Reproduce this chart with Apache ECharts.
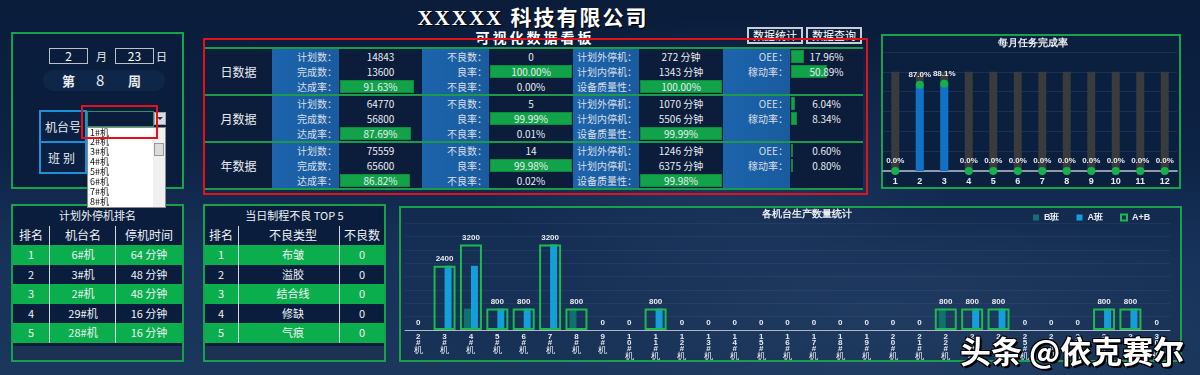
<!DOCTYPE html>
<html lang="zh">
<head>
<meta charset="utf-8">
<title>可视化数据看板</title>
<script src="https://cdn.jsdelivr.net/npm/echarts@6.0.0/dist/echarts.min.js"></script>
<style>
  html, body { margin: 0; padding: 0; }
  body {
    width: 1200px; height: 375px; overflow: hidden; position: relative;
    font-family: "Noto Sans CJK SC", "Noto Sans", sans-serif; color: #e8ecf1;
    background:
      radial-gradient(ellipse 360px 190px at 720px 150px, rgba(110,150,205,0.16), transparent 70%),
      radial-gradient(ellipse 520px 150px at 880px 310px, rgba(120,160,210,0.12), transparent 70%),
      linear-gradient(180deg, #0a1c3a 0%, #0d2345 40%, #17325a 68%, #1b375c 100%);
  }
  .a { position: absolute; box-sizing: border-box; }
  .green-box { border: 2px solid #19a04a; }
  .title { left: 0; width: 1066px; top: 1px; text-align: center; font-family: "Liberation Serif", "Noto Sans CJK SC", serif;
           font-weight: bold; font-size: 21px; letter-spacing: 2px; color: #fff; text-shadow: 1px 1px 1px #000; }
  .subtitle { left: 0; width: 1070px; top: 27px; text-align: center; font-size: 14px; font-weight: bold; letter-spacing: 3px; color: #fff; }
  .btn { height: 17px; width: 56px; border: 2px solid #c9ced6; background: #0c1f3c; color: #fff; font-size: 11px;
         line-height: 13px; text-align: center; }
  .kpi div { position: absolute; box-sizing: border-box; }
  .lbl { text-align: right; font-size: 10px; color: #d9dfe7; line-height: 15px; padding-right: 2px; }
  .val { text-align: center; font-size: 10px; color: #e9edf2; line-height: 15px; }
  .bar { background: #12a34a; border: 1px solid #0c8a3b; }
  .tb div { position: absolute; box-sizing: border-box; text-align: center; font-size: 11px; color: #eef2f6; }
  .drop div { position: absolute; box-sizing: border-box; }
</style>
</head>
<body>

<!-- header -->
<div class="a title">XXXXX 科技有限公司</div>
<div class="a subtitle">可视化数据看板</div>
<div class="a btn" style="left:747px;top:27px;">数据统计</div>
<div class="a btn" style="left:806px;top:27px;">数据查询</div>

<!-- date / machine panel -->
<div class="a green-box" style="left:11px;top:32px;width:173px;height:157px;background:#0a1d3c;"></div>
<div class="a" style="left:49px;top:48px;width:39px;height:16px;border:1.5px solid #b9c1cc;text-align:center;font-size:12px;line-height:13px;color:#fff;">2</div>
<div class="a" style="left:96px;top:48px;font-size:11px;line-height:16px;">月</div>
<div class="a" style="left:115px;top:48px;width:39px;height:16px;border:1.5px solid #b9c1cc;text-align:center;font-size:12px;line-height:13px;color:#fff;">23</div>
<div class="a" style="left:156px;top:48px;font-size:11px;line-height:16px;">日</div>
<div class="a" style="left:43px;top:70px;width:122px;height:21px;border-radius:10px;background:#0e2749;"></div>
<div class="a" style="left:62px;top:70px;font-size:13px;line-height:21px;font-weight:bold;">第</div>
<div class="a" style="left:96px;top:69px;font-size:15px;line-height:22px;">8</div>
<div class="a" style="left:128px;top:70px;font-size:13px;line-height:21px;font-weight:bold;">周</div>
<div class="a" style="left:39px;top:110px;width:48px;height:33px;border:2px solid #1f90d8;background:#0b2143;text-align:center;font-size:12px;line-height:29px;">机台号</div>
<div class="a" style="left:39px;top:141px;width:48px;height:33px;border:2px solid #1f90d8;background:#0b2143;text-align:center;font-size:12px;line-height:29px;letter-spacing:3px;">班别</div>

<!-- bottom-left tables -->
<div class="a green-box tb" id="stopTable" style="left:11px;top:204px;width:173px;height:158px;background:#1b3253;"></div>
<div class="a green-box tb" id="defectTable" style="left:203px;top:204px;width:183px;height:158px;background:#1b3253;"></div>

<!-- KPI table -->
<div class="a kpi" id="kpi" style="left:205px;top:47px;width:658px;height:144px;"></div>
<div class="a" style="left:203px;top:38px;width:665px;height:157px;border:2px solid #e3121a;"></div>

<!-- chart panels -->
<div class="a green-box" style="left:881px;top:34px;width:300px;height:155px;background:#0b1f3e;"></div>
<div class="a green-box" style="left:399px;top:206px;width:783px;height:156px;background:rgba(20,40,70,0.25);"></div>

<div id="chart" class="a" style="left:0;top:0;width:1200px;height:375px;"></div>

<!-- dropdown (drawn above the bottom table) -->
<div class="a drop" id="drop" style="left:0;top:0;width:0;height:0;"></div>

<div class="a" style="left:960px;top:327px;font-size:31px;font-weight:bold;color:#fff;white-space:nowrap;
     text-shadow:2px 2px 0 #000,-1px -1px 0 #000,1px -1px 0 #000,-1px 1px 0 #000;">头条 @依克赛尔</div>

<script>
// ---- KPI table data ----
const periodNames = ['日数据', '月数据', '年数据'];
const planQty = [14843, 64770, 75559];
const doneQty = [13600, 56800, 65600];
const reachRate = [91.63, 87.69, 86.82];
const defectQty = [0, 5, 14];
const goodRate = [100.00, 99.99, 99.98];
const badRate = [0.00, 0.01, 0.02];
const unplannedStop = [272, 1070, 1246];
const plannedStop = [1343, 5506, 6375];
const qualityRate = [100.00, 99.99, 99.98];
const oeeRate = [17.96, 6.04, 0.60];
const utilRate = [50.89, 8.34, 0.80];

// ---- bottom tables ----
const stopRank = [1, 2, 3, 4, 5];
const stopMachine = ['6#机', '3#机', '2#机', '29#机', '28#机'];
const stopMinutes = [64, 48, 48, 16, 16];
const defectType = ['布皱', '溢胶', '结合线', '修缺', '气痕'];
const defectCount = [0, 0, 0, 0, 0];
const machineOptions = ['1#机', '2#机', '3#机', '4#机', '5#机', '6#机', '7#机', '8#机'];

// ---- monthly completion ----
const months = ['1', '2', '3', '4', '5', '6', '7', '8', '9', '10', '11', '12'];
const monthRate = [0, 0.870, 0.881, 0, 0, 0, 0, 0, 0, 0, 0, 0];
const monthTarget = [1, 1, 1, 1, 1, 1, 1, 1, 1, 1, 1, 1];

// ---- production per machine ----
const machines = ['2#机', '3#机', '4#机', '5#机', '6#机', '7#机', '8#机', '9#机', '10#机', '11#机',
  '12#机', '13#机', '14#机', '15#机', '16#机', '17#机', '18#机', '19#机', '20#机', '21#机',
  '22#机', '23#机', '24#机', '25#机', '26#机', '27#机', '28#机', '29#机', '30#机'];
const shiftB = [0, 0, 800, 0, 0, 0, 800, 0, 0, 0, 0, 0, 0, 0, 0, 0, 0, 0, 0, 0, 800, 0, 0, 0, 0, 0, 0, 0, 0];
const shiftA = [0, 2400, 2400, 800, 800, 3200, 0, 0, 0, 800, 0, 0, 0, 0, 0, 0, 0, 0, 0, 0, 0, 800, 800, 0, 0, 0, 800, 800, 0];
const shiftAB = [0, 2400, 3200, 800, 800, 3200, 800, 0, 0, 800, 0, 0, 0, 0, 0, 0, 0, 0, 0, 0, 800, 800, 800, 0, 0, 0, 800, 800, 0];

function el(parent, style, html, cls) {
  const d = document.createElement('div');
  if (cls) d.className = cls;
  d.style.cssText = style;
  if (html !== undefined) d.innerHTML = html;
  parent.appendChild(d);
  return d;
}

// KPI table
const kpi = document.getElementById('kpi');
const colX = [0, 67, 134, 217, 284, 368, 434, 518, 585, 658];
const blue = 'background:linear-gradient(90deg,#1c64ac,#195b9e);';
const dark = 'background:#0b1d3b;';
const pct = v => v.toFixed(2) + '%';
function barCell(x, w, y, v, txt) {
  const inner = w - 2;
  el(kpi, `left:${x + 1}px;top:${y + 1}px;width:${inner * v / 100}px;height:13px;`, undefined, 'bar');
  el(kpi, `left:${x}px;top:${y}px;width:${w}px;height:15px;`, txt, 'val');
}
for (let s = 0; s < 3; s++) {
  const top = 2 + s * 47;
  for (let c = 0; c < 9; c++) {
    el(kpi, `left:${colX[c]}px;top:${top}px;width:${colX[c + 1] - colX[c]}px;height:45px;` + (c % 2 === 1 ? blue : dark));
  }
  el(kpi, `left:0;top:${top}px;width:67px;height:45px;text-align:center;line-height:45px;font-size:12px;color:#e9edf2;`, periodNames[s]);
  const labels = [['计划数：', '完成数：', '达成率：'], ['不良数：', '良率：', '不良率：'],
                  ['计划外停机：', '计划内停机：', '设备质量性：'], ['OEE：', '稼动率：', '']];
  labels.forEach((ls, k) => {
    const c = 1 + k * 2;
    ls.forEach((t, r) => el(kpi, `left:${colX[c]}px;top:${top + r * 15}px;width:${colX[c + 1] - colX[c]}px;height:15px;`, t, 'lbl'));
  });
  const w2 = colX[3] - colX[2], w4 = colX[5] - colX[4], w6 = colX[7] - colX[6], w8 = colX[9] - colX[8];
  el(kpi, `left:${colX[2]}px;top:${top}px;width:${w2}px;`, planQty[s], 'val');
  el(kpi, `left:${colX[2]}px;top:${top + 15}px;width:${w2}px;`, doneQty[s], 'val');
  barCell(colX[2], w2, top + 30, reachRate[s], pct(reachRate[s]));
  el(kpi, `left:${colX[4]}px;top:${top}px;width:${w4}px;`, defectQty[s], 'val');
  barCell(colX[4], w4, top + 15, goodRate[s], pct(goodRate[s]));
  el(kpi, `left:${colX[4]}px;top:${top + 30}px;width:${w4}px;`, pct(badRate[s]), 'val');
  el(kpi, `left:${colX[6]}px;top:${top}px;width:${w6}px;`, unplannedStop[s] + ' 分钟', 'val');
  el(kpi, `left:${colX[6]}px;top:${top + 15}px;width:${w6}px;`, plannedStop[s] + ' 分钟', 'val');
  barCell(colX[6], w6, top + 30, qualityRate[s], pct(qualityRate[s]));
  barCell(colX[8], w8, top, oeeRate[s], pct(oeeRate[s]));
  barCell(colX[8], w8, top + 15, utilRate[s], pct(utilRate[s]));
}
for (let s = 0; s < 4; s++) el(kpi, `left:0;top:${s * 47}px;width:658px;height:2px;background:#1c9a4a;`);

// bottom tables
function rankTable(id, title, heads, cols, sepX, centers, width) {
  const t = document.getElementById(id);
  const w = width;
  el(t, `left:0;top:0;width:${w}px;height:137px;background:#0a1d3d;`);
  el(t, `left:0;top:2px;width:${w}px;line-height:15px;font-size:11px;`, title);
  heads.forEach((h, i) => el(t, `left:${centers[i] - 40}px;top:19px;width:80px;line-height:20px;font-size:12px;`, h));
  for (let r = 0; r < 5; r++) {
    const y = 39 + r * 19.6;
    el(t, `left:0;top:${y}px;width:${w}px;height:19.6px;background:${r % 2 === 0 ? '#0bae4c' : '#0a1d3d'};`);
    cols.forEach((c, i) => el(t, `left:${centers[i] - 40}px;top:${y}px;width:80px;line-height:19.6px;`, c[r]));
  }
  el(t, `left:0;top:137px;width:${w}px;height:3px;background:#0d1d38;`);
  sepX.forEach(x => el(t, `left:${x}px;top:20px;width:1px;height:117px;background:#d3d9e0;`));
}
rankTable('stopTable', '计划外停机排名', ['排名', '机台名', '停机时间'],
  [stopRank, stopMachine, stopMinutes.map(v => v + ' 分钟')], [36, 102], [18, 70, 136], 169);
rankTable('defectTable', '当日制程不良 TOP 5', ['排名', '不良类型', '不良数'],
  [stopRank, defectType, defectCount], [33, 134], [16, 88, 157], 179);

// dropdown
const drop = document.getElementById('drop');
el(drop, 'left:87px;top:111px;width:67px;height:16px;border:1px solid #2f8f5c;background:#0a1d3c;');
el(drop, 'left:154px;top:112px;width:12px;height:13px;background:#d9dce0;border:1px solid #9aa;');
el(drop, 'left:157px;top:117px;width:0;height:0;border-left:3px solid transparent;border-right:3px solid transparent;border-top:3px solid #333;');
el(drop, 'left:87px;top:127px;width:79px;height:81px;background:#fff;border:1px solid #8c8c8c;');
el(drop, 'left:153px;top:128px;width:12px;height:79px;background:#f0f0f0;');
el(drop, 'left:154px;top:143px;width:10px;height:13px;background:#dcdcdc;border:1px solid #999;');
machineOptions.forEach((m, i) => el(drop, `left:90px;top:${127.5 + i * 9.9}px;font-size:9px;line-height:10px;color:#111;white-space:nowrap;`, m));
el(drop, 'left:81px;top:105px;width:77px;height:34px;border:2px solid #e3121a;');

// charts
const chart = echarts.init(document.getElementById('chart'));
const white = '#e8ecf1';
chart.setOption({
  animation: false,
  title: [
    { text: '每月任务完成率', left: 998, top: 38, padding: 0, textStyle: { color: white, fontSize: 10, fontWeight: 'bold' } },
    { text: '各机台生产数量统计', left: 762, top: 209, padding: 0, textStyle: { color: white, fontSize: 10, fontWeight: 'bold' } }
  ],
  legend: {
    data: ['B班', 'A班', 'A+B'], left: 1033, top: 213, padding: 0, icon: 'rect', itemWidth: 6, itemHeight: 6, itemGap: 17,
    textStyle: { color: white, fontSize: 9, fontWeight: 'bold' }
  },
  grid: [
    { left: 883, right: 23, top: 52, bottom: 204 },
    { left: 405, right: 30, top: 223, bottom: 45 }
  ],
  xAxis: [
    {
      gridIndex: 0, type: 'category', data: months,
      axisLine: { lineStyle: { color: '#8d9aac', width: 2 } }, axisTick: { show: false },
      axisLabel: { color: white, fontSize: 9, fontWeight: 'bold', margin: 6 }
    },
    {
      gridIndex: 1, type: 'category', data: machines,
      axisLine: { lineStyle: { color: '#aeb7c3', width: 1 } }, axisTick: { show: false },
      axisLabel: {
        interval: 0, margin: 4,
        formatter: v => v.replace('机', '').split('').map(c => '{d|' + c + '}').join('\n') + '\n{c|机}',
        rich: {
          d: { fontSize: 8, lineHeight: 6, color: white, fontWeight: 'bold' },
          c: { fontSize: 9, lineHeight: 10, color: white }
        }
      }
    },
    { gridIndex: 1, type: 'category', data: machines, show: false }
  ],
  yAxis: [
    {
      gridIndex: 0, type: 'value', min: 0, max: 1.2, interval: 0.2,
      axisLabel: { show: false }, axisLine: { show: false }, axisTick: { show: false },
      splitLine: { lineStyle: { color: 'rgba(90,130,190,0.18)' } }
    },
    {
      gridIndex: 1, type: 'value', min: 0, max: 4000, interval: 500,
      axisLabel: { show: false }, axisLine: { show: false }, axisTick: { show: false },
      splitLine: { lineStyle: { color: 'rgba(150,180,220,0.08)' } }
    }
  ],
  series: [
    {
      name: '目标', type: 'bar', xAxisIndex: 0, yAxisIndex: 0, data: monthTarget, barWidth: 8,
      itemStyle: { color: '#3a3b3d' }, silent: true
    },
    {
      name: '完成率', type: 'bar', xAxisIndex: 0, yAxisIndex: 0, data: monthRate, barWidth: 8, barGap: '-100%',
      itemStyle: { color: '#1171c9' }
    },
    {
      name: '完成率点', type: 'line', xAxisIndex: 0, yAxisIndex: 0, data: monthRate,
      symbol: 'circle', symbolSize: 8, itemStyle: { color: '#16b04b' }, lineStyle: { width: 0, opacity: 0 },
      label: { show: true, position: 'top', distance: 2, color: white, fontSize: 8, fontWeight: 'bold',
               formatter: p => (p.value * 100).toFixed(1) + '%' },
      z: 5
    },
    {
      name: 'B班', type: 'bar', xAxisIndex: 1, yAxisIndex: 1, data: shiftB, barWidth: 7, barGap: '0%',
      itemStyle: { color: '#11716f' }
    },
    {
      name: 'A班', type: 'bar', xAxisIndex: 1, yAxisIndex: 1, data: shiftA, barWidth: 7,
      itemStyle: { color: '#129fda' }
    },
    {
      name: 'A+B', type: 'bar', xAxisIndex: 2, yAxisIndex: 1, barWidth: 22,
      data: shiftAB.map(v => v ? v : { value: v, itemStyle: { borderWidth: 0 } }),
      itemStyle: { color: 'rgba(0,0,0,0)', borderColor: '#1cb94f', borderWidth: 2 },
      label: { show: true, position: 'top', distance: 3, color: white, fontSize: 8, fontWeight: 'bold' },
      z: 4
    }
  ]
});
</script>
</body>
</html>
